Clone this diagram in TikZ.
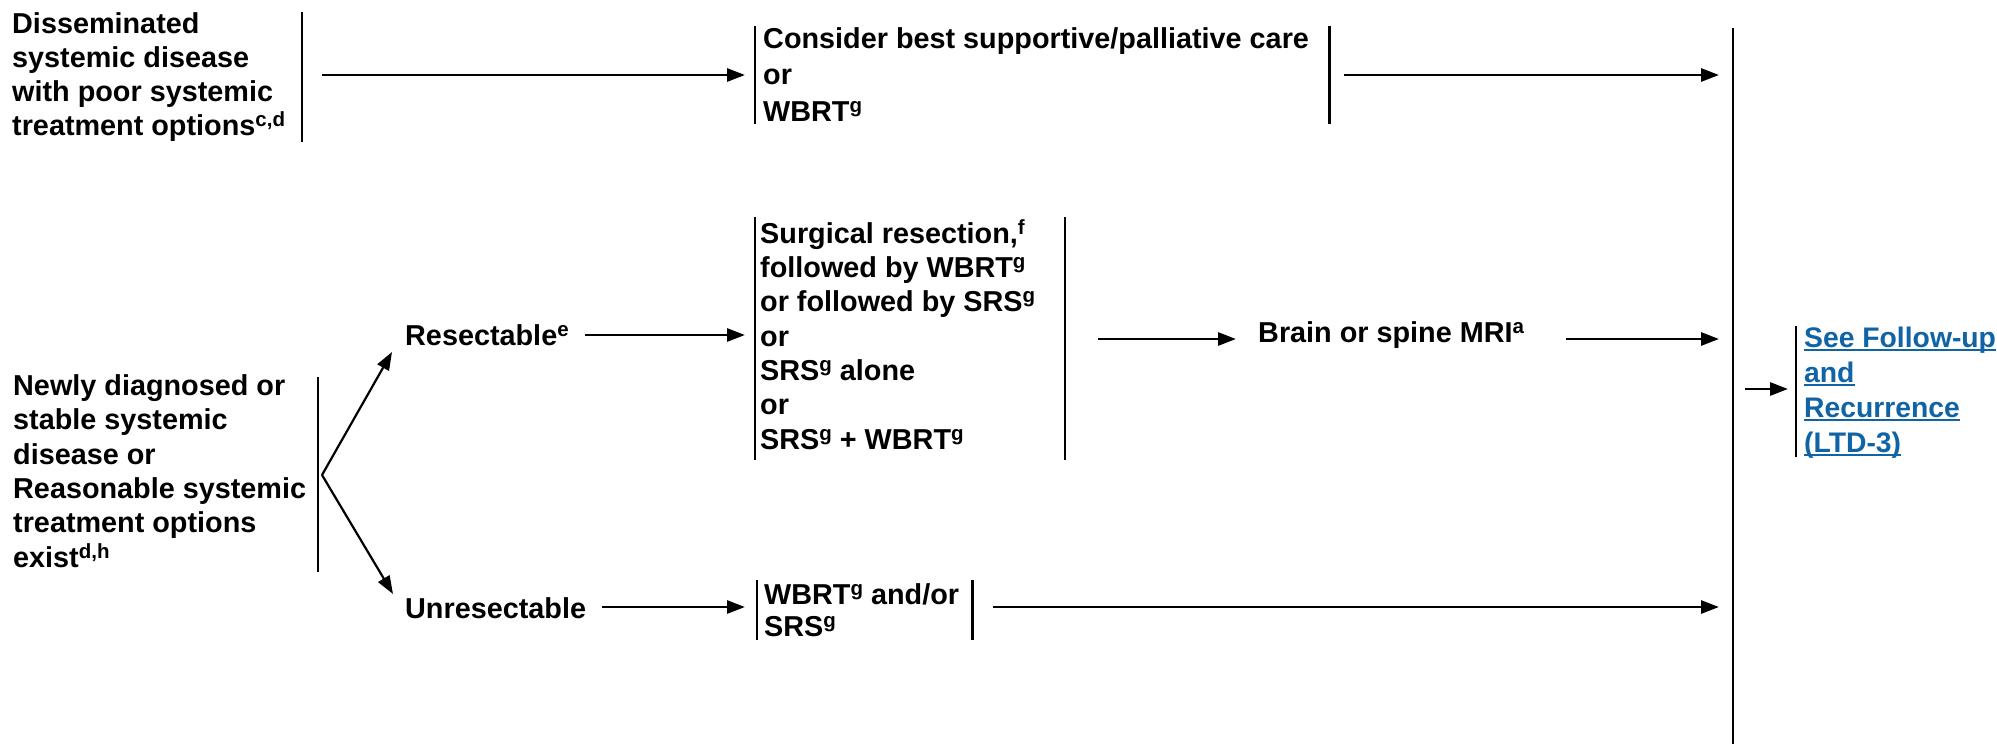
\documentclass[tikz,border=0pt]{standalone}
\usepackage{fontspec}
\setmainfont{Liberation Sans}
\usetikzlibrary{arrows.meta}
\definecolor{linkblue}{RGB}{16,100,165}
\newcommand\sups[1]{\raisebox{9pt}{\fontsize{20.5}{20.5}\selectfont #1}}
\newcommand\fl{\rule{0pt}{26pt}}
\newcommand\ulx[1]{\setbox0\hbox{#1}\rlap{\rule[-4pt]{\wd0}{1.8pt}}\box0}
\tikzset{
  txt/.style={inner sep=0pt, align=left, anchor=north west, font=\fontsize{28.8}{#1}\selectfont\bfseries},
  txt/.default=34,
  one/.style={inner sep=0pt, anchor=base west, font=\fontsize{28.8}{34}\selectfont\bfseries},
  bar/.style={line width=2.8pt},
  arr/.style={line width=2.8pt, -{Triangle[length=18pt,width=13pt]}},
  thinarr/.style={line width=2.2pt, -{Triangle[length=18pt,width=13pt]}}
}
\begin{document}
\begin{tikzpicture}[x=1pt,y=-1pt]
\path[use as bounding box] (0,0) rectangle (1997,744);

% ---- row 1
\node[txt=34] (diss) at (12,7) {\fl Disseminated\\systemic disease\\with poor systemic\\treatment options\sups{c,d}};
\coordinate (b1t) at (302,12); \coordinate (b1b) at (302,142);
\draw[bar] (b1t) -- (b1b);
\node[txt=36.5] (cons) at (763,22) {\fl Consider best supportive/palliative care\\or\\WBRT\sups{g}};
\coordinate (cLt) at (755,26); \coordinate (cLb) at (755,124);
\draw[bar] (cLt) -- (cLb);
\coordinate (cRt) at ([xshift=20pt]cons.east |- cLt);
\coordinate (cRb) at ([xshift=20pt]cons.east |- cLb);
\draw[bar] (cRt) -- (cRb);

% big vertical line
\coordinate (bigt) at (1733,28); \coordinate (bigb) at (1733,744);
\draw[bar] (bigt) -- (bigb);

\coordinate (a1s) at (322,75);
\draw[arr] (a1s) -- ([xshift=-10pt]cLt |- a1s);
\coordinate (r1s) at ([xshift=15pt]cRt |- a1s);
\draw[arr] (r1s) -- ([xshift=-14pt]bigt |- r1s);

% ---- row 2
\node[txt=34.4] (newly) at (13,369) {\fl Newly diagnosed or\\stable systemic\\disease or\\Reasonable systemic\\treatment options\\exist\sups{d,h}};
\coordinate (b2t) at (318,377); \coordinate (b2b) at (318,572);
\draw[bar] (b2t) -- (b2b);
\coordinate (br) at (322,475);

\node[one] (resect) at (405,345) {Resectable\sups{e}};
\node[one] (unres) at (405,618) {Unresectable};
\draw[thinarr] (br) -- ([xshift=-13pt,yshift=-7pt]resect.base west);
\draw[thinarr] (br) -- ([xshift=-12pt,yshift=24pt]unres.base west);

\node[txt=34.3] (surg) at (760,217) {\fl Surgical resection,\sups{f}\\followed by WBRT\sups{g}\\or followed by SRS\sups{g}\\or\\SRS\sups{g} alone\\or\\SRS\sups{g} + WBRT\sups{g}};
\coordinate (sLt) at (755,217); \coordinate (sLb) at (755,460);
\coordinate (sRt) at (1065,217); \coordinate (sRb) at (1065,460);
\draw[bar] (sLt) -- (sLb);
\draw[bar] (sRt) -- (sRb);

\coordinate (ra) at ([xshift=16pt,yshift=10pt]resect.base east);
\draw[arr] (ra) -- ([xshift=-10pt]sLt |- ra);

\node[one] (mri) at (1258,342) {Brain or spine MRI\sups{a}};
\coordinate (ma) at (1098,339);
\draw[arr] (ma) -- ([xshift=-22pt]mri.base west |- ma);
\draw[arr] ([xshift=42pt]mri.base east |- ma) -- ([xshift=-14pt]bigt |- ma);

% unresectable row
\node[txt=32] (wbrt) at (764,578) {\fl WBRT\sups{g} and/or\\SRS\sups{g}};
\coordinate (wLt) at (757,580); \coordinate (wLb) at (757,640);
\draw[bar] (wLt) -- (wLb);
\coordinate (wRt) at ([xshift=13pt]wbrt.east |- wLt);
\coordinate (wRb) at ([xshift=13pt]wbrt.east |- wLb);
\draw[bar] (wRt) -- (wRb);
\coordinate (ua) at ([xshift=16pt,yshift=11pt]unres.base east);
\draw[arr] (ua) -- ([xshift=-12pt]wLt |- ua);
\draw[arr] ([xshift=21pt]wRt |- ua) -- ([xshift=-14pt]bigt |- ua);

% follow-up link
\node[txt=35, text=linkblue, font=\fontsize{28.3}{35}\selectfont\bfseries] (follow) at (1804,321) {\fl\ulx{See Follow-up}\\\ulx{and}\\\ulx{Recurrence}\\\ulx{(LTD-3)}};
\coordinate (fbt) at (1796,326); \coordinate (fbb) at (1796,457);
\draw[bar] (fbt) -- (fbb);
\draw[arr] ([xshift=12pt]bigt |- 0,389) -- ([xshift=-8pt]fbt |- 0,389);
\end{tikzpicture}
\end{document}
